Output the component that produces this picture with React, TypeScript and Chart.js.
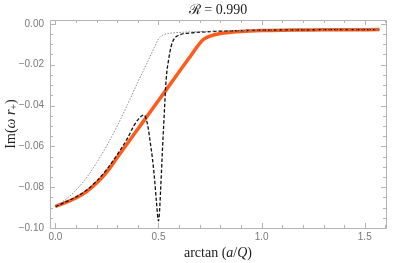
import React, { useEffect, useRef } from "react";
import { Chart, registerables } from "chart.js";

Chart.register(...registerables);

// ---- data ----
const orangeX = [0, 0.05, 0.1, 0.15, 0.2, 0.25, 0.3, 0.35, 0.4, 0.45, 0.5, 0.55, 0.6, 0.65, 0.7, 0.72, 0.75, 0.8, 0.85, 0.9, 1.0, 1.1, 1.2, 1.3, 1.4, 1.5708];
const orangeY = [-0.0895, -0.0875, -0.0853, -0.0823, -0.078, -0.0725, -0.0655, -0.0585, -0.0515, -0.0445, -0.0375, -0.0305, -0.0235, -0.0165, -0.0095, -0.0075, -0.006, -0.0047, -0.0041, -0.0037, -0.0033, -0.0031, -0.003, -0.0029, -0.0029, -0.0028];

const dashedX = [0, 0.05, 0.1, 0.15, 0.2, 0.25, 0.3, 0.35, 0.38, 0.4, 0.42, 0.43, 0.44, 0.45, 0.46, 0.47, 0.48, 0.49, 0.5, 0.505, 0.51, 0.515, 0.52, 0.525, 0.53, 0.535, 0.54, 0.55, 0.56, 0.575, 0.6, 0.65, 0.75, 0.9, 1.0, 1.2, 1.5708];
const dashedY = [-0.0895, -0.0872, -0.0848, -0.0815, -0.077, -0.0712, -0.064, -0.056, -0.05, -0.047, -0.045, -0.0447, -0.0465, -0.051, -0.058, -0.0655, -0.075, -0.087, -0.0965, -0.092, -0.082, -0.071, -0.06, -0.05, -0.04, -0.0305, -0.024, -0.017, -0.0115, -0.0075, -0.0055, -0.0045, -0.0038, -0.0033, -0.0031, -0.0029, -0.0028];

const dottedX = [0, 0.05, 0.1, 0.15, 0.2, 0.25, 0.3, 0.35, 0.4, 0.45, 0.48, 0.5, 0.52, 0.55, 0.6, 0.7, 0.8, 1.0, 1.2, 1.5708];
const dottedY = [-0.0895, -0.086, -0.0815, -0.0755, -0.068, -0.0595, -0.05, -0.0395, -0.0285, -0.018, -0.0115, -0.0075, -0.0055, -0.0047, -0.0042, -0.0038, -0.0035, -0.0031, -0.0029, -0.0028];

const xTickValues = [0, 0.5, 1.0, 1.5];
const yTickValues = [-0.1, -0.08, -0.06, -0.04, -0.02, 0];
const xMinorTicks = [0, 0.1, 0.2, 0.3, 0.4, 0.5, 0.6, 0.7, 0.8, 0.9, 1.0, 1.1, 1.2, 1.3, 1.4, 1.5, 1.6];
const yMinorTicks = [-0.1, -0.095, -0.09, -0.085, -0.08, -0.075, -0.07, -0.065, -0.06, -0.055, -0.05, -0.045, -0.04, -0.035, -0.03, -0.025, -0.02, -0.015, -0.01, -0.005, 0];

const titleText = "ℛ = 0.990";

const toPoints = (xs: number[], ys: number[]) => xs.map((x, i) => ({ x, y: ys[i] }));

type Part = { t: string; italic?: boolean; size?: number; dy?: number };

function drawRich(ctx: CanvasRenderingContext2D, parts: Part[], cx: number, cy: number, base: number) {
  const fontFor = (p: Part) => `${p.italic ? "italic " : ""}${p.size ?? base}px "Liberation Serif", "DejaVu Serif", serif`;
  let total = 0;
  for (const p of parts) {
    ctx.font = fontFor(p);
    total += ctx.measureText(p.t).width;
  }
  let x = cx - total / 2;
  ctx.textBaseline = "middle";
  ctx.textAlign = "left";
  for (const p of parts) {
    ctx.font = fontFor(p);
    ctx.fillText(p.t, x, cy + (p.dy ?? 0));
    x += ctx.measureText(p.t).width;
  }
}

const framePlugin = {
  id: "framePlugin",
  afterDraw(chart: any) {
    const ctx = chart.ctx as CanvasRenderingContext2D;
    const { left, right, top, bottom } = chart.chartArea;
    const xs = chart.scales.x;
    const ys = chart.scales.y;
    ctx.save();
    ctx.strokeStyle = "#b4b4b4";
    ctx.lineWidth = 1;
    ctx.beginPath();
    ctx.rect(Math.round(left) + 0.5, Math.round(top) + 0.5, Math.round(right - left), Math.round(bottom - top));
    ctx.stroke();
    ctx.beginPath();
    for (const v of xMinorTicks) {
      const px = Math.round(xs.getPixelForValue(v)) + 0.5;
      const major = Math.abs(v * 2 - Math.round(v * 2)) < 1e-6;
      const len = major ? 5 : 3;
      ctx.moveTo(px, bottom);
      ctx.lineTo(px, bottom - len);
      ctx.moveTo(px, top);
      ctx.lineTo(px, top + len);
    }
    for (const v of yMinorTicks) {
      const py = Math.round(ys.getPixelForValue(v)) + 0.5;
      const major = Math.abs(v * 50 - Math.round(v * 50)) < 1e-6;
      const len = major ? 5 : 3;
      ctx.moveTo(left, py);
      ctx.lineTo(left + len, py);
      ctx.moveTo(right, py);
      ctx.lineTo(right - len, py);
    }
    ctx.stroke();

    ctx.fillStyle = "#222";
    const cx = (left + right) / 2;
    drawRich(ctx, [{ t: "ℛ", italic: false }, { t: " = 0.990" }], cx, 10, 14);
    drawRich(
      ctx,
      [{ t: "arctan (" }, { t: "a", italic: true }, { t: "/" }, { t: "Q", italic: true }, { t: ")" }],
      cx,
      253,
      14
    );
    ctx.translate(11, (top + bottom) / 2);
    ctx.rotate(-Math.PI / 2);
    drawRich(
      ctx,
      [{ t: "Im(" }, { t: "ω", italic: true }, { t: " " }, { t: "r", italic: true }, { t: "+", size: 10, dy: 3 }, { t: ")" }],
      0,
      0,
      14
    );
    ctx.restore();
  },
};

export default function App() {
  const ref = useRef<HTMLCanvasElement | null>(null);
  useEffect(() => {
    document.body.style.margin = "0";
    const canvas = ref.current!;
    const chart = new Chart(canvas, {
      type: "line",
      data: {
        datasets: [
          {
            label: "dotted",
            data: toPoints(dottedX, dottedY),
            borderColor: "#8a8a8a",
            borderWidth: 1,
            borderDash: [1.5, 1.5],
            pointRadius: 0,
            cubicInterpolationMode: "monotone",
            order: 1,
          },
          {
            label: "dashed",
            data: toPoints(dashedX, dashedY),
            borderColor: "#111",
            borderWidth: 1.3,
            borderDash: [3.5, 2],
            pointRadius: 0,
            cubicInterpolationMode: "monotone",
            order: 2,
          },
          {
            label: "orange",
            data: toPoints(orangeX, orangeY),
            borderColor: "#ff5b1a",
            borderWidth: 3.5,
            pointRadius: 0,
            cubicInterpolationMode: "monotone",
            order: 3,
          },
        ],
      },
      options: {
        responsive: false,
        animation: false,
        devicePixelRatio: 1,
        layout: { padding: { left: 0, right: 21, top: 20, bottom: 0 } },
        plugins: { legend: { display: false }, tooltip: { enabled: false }, title: { display: false } },
        scales: {
          x: {
            type: "linear",
            min: -0.026,
            max: 1.603,
            grid: { display: false, drawTicks: false },
            border: { display: false },
            afterBuildTicks: (s: any) => {
              s.ticks = xTickValues.map((v) => ({ value: v }));
            },
            afterFit: (s: any) => {
              s.height = 35;
            },
            ticks: {
              padding: 3,
              color: "#7a7a7a",
              font: { family: "'Liberation Sans', sans-serif", size: 10 },
              maxRotation: 0,
              callback: (v: any) => Number(v).toFixed(1),
            },
          },
          y: {
            type: "linear",
            min: -0.1,
            max: 0.0019,
            grid: { display: false, drawTicks: false },
            border: { display: false },
            afterBuildTicks: (s: any) => {
              s.ticks = yTickValues.map((v) => ({ value: v }));
            },
            afterFit: (s: any) => {
              s.width = 50;
            },
            ticks: {
              padding: 6,
              color: "#7a7a7a",
              font: { family: "'Liberation Sans', sans-serif", size: 10 },
              callback: (v: any) => {
                const n = Number(v);
                if (Math.abs(n) < 1e-9) return "0.00";
                return "\u2212" + Math.abs(n).toFixed(2);
              },
            },
          },
        },
      } as any,
      plugins: [framePlugin],
    });
    return () => chart.destroy();
  }, []);
  return (
    <div style={{ position: "absolute", left: 0, top: 0, width: 407, height: 263 }}>
      <canvas ref={ref} width={407} height={263} />
    </div>
  );
}
